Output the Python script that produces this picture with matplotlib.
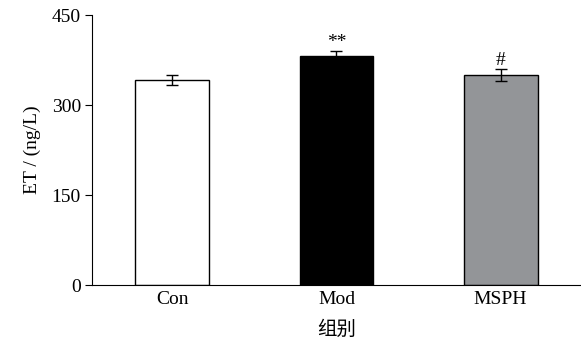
import numpy as np
import matplotlib.pyplot as plt

groups = ['Con', 'Mod', 'MSPH']
values = [342, 381, 350]
errors = [8, 9, 10]
marks = ['', '**', '#']
colors = ['white', 'black', '#939598']

plt.rcParams['font.family'] = ['Liberation Serif', 'Noto Sans CJK SC']

fig = plt.figure(figsize=(5.81, 3.52), dpi=100)
ax = fig.add_axes([0.1583, 0.1903, 0.8417, 0.767])

x = np.arange(len(groups))
ax.bar(x, values, width=0.45, color=colors, edgecolor='black', linewidth=1.0, zorder=2)
ax.errorbar(x, values, yerr=errors, fmt='none', ecolor='black', elinewidth=1.0,
            capsize=4, capthick=1.0, zorder=3)
for xi, v, e, m in zip(x, values, errors, marks):
    if m:
        ax.text(xi, v + e, m, ha='center', va='bottom', fontsize=14)

ax.set_xlim(-0.49, 2.49)
ax.set_ylim(0, 450)
ax.set_yticks([0, 150, 300, 450])
ax.set_xticks(x)
ax.set_xticklabels(groups)
ax.tick_params(axis='x', direction='in', length=4, labelsize=14, pad=4)
ax.tick_params(axis='y', direction='out', length=5, labelsize=14, pad=3)
ax.spines['top'].set_visible(False)
ax.spines['right'].set_visible(False)
ax.set_ylabel('ET / (ng/L)', fontsize=14, labelpad=8)
ax.set_xlabel('组别', fontsize=14, labelpad=8, family=['Noto Sans CJK SC'])

fig.savefig('out.png', dpi=100)
